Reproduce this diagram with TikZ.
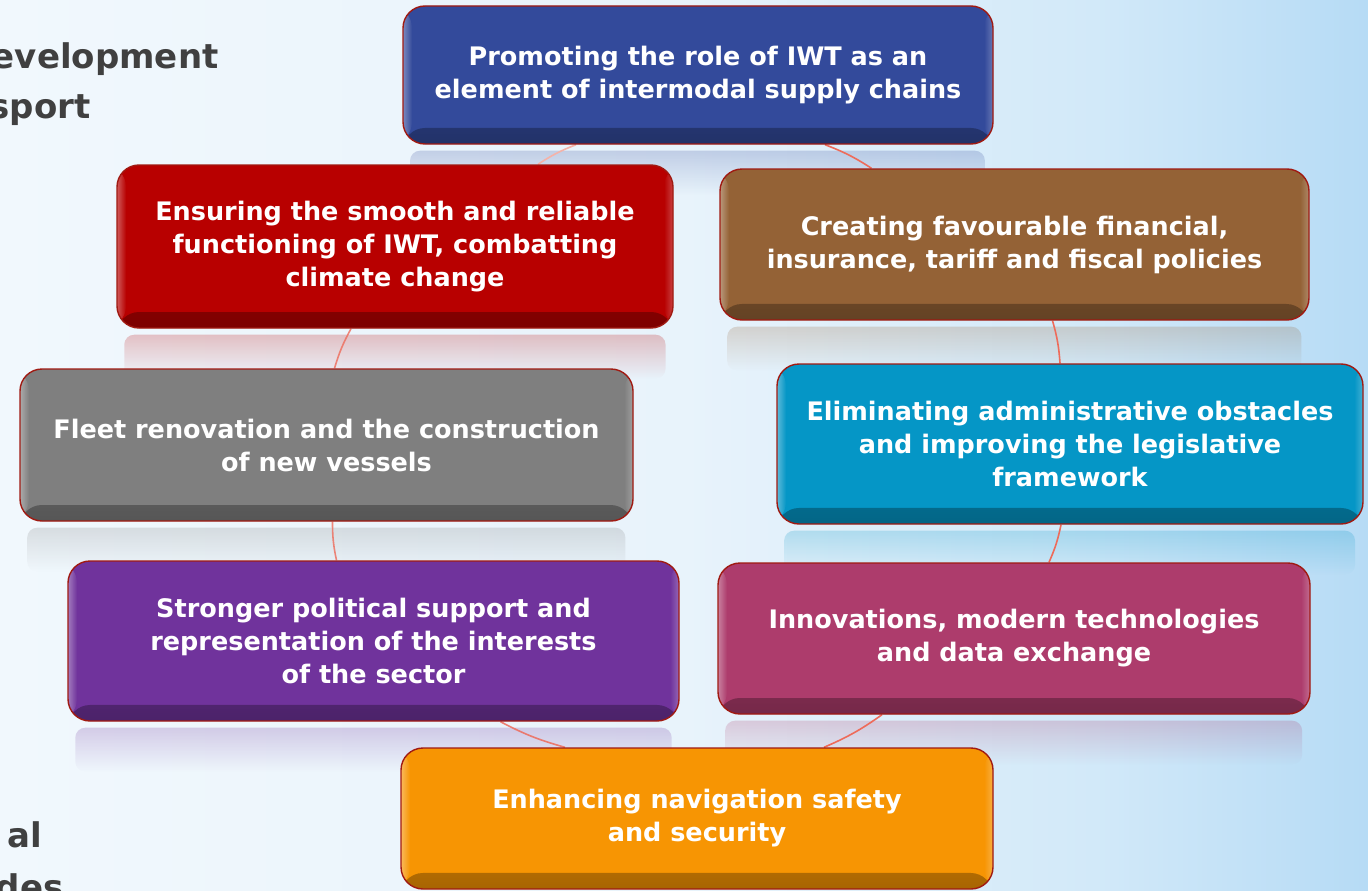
\documentclass[tikz,border=0pt]{standalone}
\usepackage{fontspec}
\setmainfont{DejaVu Sans}
\usetikzlibrary{fadings}
\pgfdeclarelayer{back}
\pgfdeclarelayer{bg}
\pgfsetlayers{back,bg,main}
\definecolor{cBlue}{HTML}{334A9B}
\definecolor{cRed}{HTML}{B80000}
\definecolor{cBrown}{HTML}{946236}
\definecolor{cGray}{HTML}{7F7F7F}
\definecolor{cCyan}{HTML}{0596C6}
\definecolor{cPurple}{HTML}{70339C}
\definecolor{cMagenta}{HTML}{AD3C6C}
\definecolor{cOrange}{HTML}{F79503}
\definecolor{cEdge}{HTML}{A01A12}
\definecolor{cLink}{HTML}{EE6B5A}
\definecolor{cLinkLight}{HTML}{F5B2A8}
\definecolor{cText}{HTML}{404040}
\definecolor{bgA}{HTML}{F1F8FD}
\definecolor{bgB}{HTML}{E8F3FB}
\definecolor{bgC}{HTML}{D2E9F9}
\definecolor{bgD}{HTML}{B6DBF5}
\pgfdeclarehorizontalshading{bgshade}{100bp}{color(0bp)=(bgA); color(25bp)=(bgA); color(50bp)=(bgB); color(65bp)=(bgC); color(75bp)=(bgD); color(100bp)=(bgD)}
\tikzset{
  gbox/.style={draw=cEdge, line width=1.4pt, rounded corners=22pt, inner sep=0pt,
    align=center, text=white, font=\bfseries\fontsize{25.5}{33}\selectfont, fill=#1,
    path picture={
      \fill[black,opacity=.32,path fading=north] (path picture bounding box.south west) rectangle ([yshift=16pt]path picture bounding box.south east);
      \fill[white,opacity=.35,path fading=east] (path picture bounding box.south west) rectangle ([xshift=9pt]path picture bounding box.north west);
      \fill[white,opacity=.25,path fading=west] ([xshift=-9pt]path picture bounding box.south east) rectangle (path picture bounding box.north east);
    }},
  refl/.style={fill=#1, opacity=.22, path fading=south, rounded corners=10pt},
  link/.style={draw=cLink, line width=1.6pt},
  sidetext/.style={anchor=base east, text=cText, font=\bfseries\fontsize{34}{40}\selectfont},
}
\begin{document}
\begin{tikzpicture}[x=1pt,y=-1pt]
\useasboundingbox (0,0) rectangle (1368,891);
\begin{pgfonlayer}{back}
\shade[shading=bgshade] (0,0) rectangle (1368,891);
\end{pgfonlayer}

\node[sidetext] (s1) at (222,68) {evelopment};
\node[sidetext] (s2) at (94,118) {sport};
\node[sidetext] (s3) at (46,847) {al};
\node[sidetext] (s4) at (67,899) {des};

\node[gbox=cBlue, minimum width=590pt, minimum height=138pt] (blue) at (698,75)
  {Promoting the role of IWT as an\\element of intermodal supply chains};
\node[gbox=cRed, minimum width=556pt, minimum height=163pt] (red) at (395,246.5)
  {Ensuring the smooth and reliable\\functioning of IWT, combatting\\climate change};
\node[gbox=cBrown, minimum width=589pt, minimum height=151pt] (brown) at (1014.5,244.5)
  {Creating favourable financial,\\insurance, tariff and fiscal policies};
\node[gbox=cGray, minimum width=613pt, minimum height=152pt] (gray) at (326.5,445)
  {Fleet renovation and the construction\\of new vessels};
\node[gbox=cCyan, minimum width=586pt, minimum height=160pt] (cyan) at (1070,444)
  {Eliminating administrative obstacles\\and improving the legislative\\framework};
\node[gbox=cPurple, minimum width=611pt, minimum height=160pt] (purple) at (373.5,641)
  {Stronger political support and\\representation of the interests\\of the sector};
\node[gbox=cMagenta, minimum width=592pt, minimum height=151pt] (magenta) at (1014,638.5)
  {Innovations, modern technologies\\and data exchange};
\node[gbox=cOrange, minimum width=592pt, minimum height=141pt] (orange) at (697,818.5)
  {Enhancing navigation safety\\and security};

\begin{pgfonlayer}{bg}
  \foreach \n/\c in {blue/cBlue,red/cRed,brown/cBrown,gray/cGray,cyan/cCyan,purple/cPurple,magenta/cMagenta,orange/cOrange}{
    \fill[refl=\c] ([xshift=8pt,yshift=-6pt]\n.south west) rectangle ([xshift=-8pt,yshift=-50pt]\n.south east);
  }
  \draw[link, draw=cLinkLight] ([xshift=-122pt]blue.south) to[bend right=6] ([xshift=143pt]red.north);
  \draw[link] ([xshift=127pt]blue.south) to[bend left=6] ([xshift=-143pt]brown.north);
  \draw[link, opacity=.8] ([xshift=-44pt]red.south) to[bend right=6] ([xshift=8pt]gray.north);
  \draw[link, opacity=.8] ([xshift=6pt]gray.south) to[bend right=6] ([xshift=-37pt]purple.north);
  \draw[link, opacity=.85] ([xshift=127pt]purple.south) to[bend right=6] ([xshift=-132pt]orange.north);
  \draw[link] ([xshift=38pt]brown.south) to[bend left=6] ([xshift=-10pt]cyan.north);
  \draw[link] ([xshift=-9pt]cyan.south) to[bend left=6] ([xshift=35pt]magenta.north);
  \draw[link] ([xshift=-132pt]magenta.south) to[bend left=6] ([xshift=127pt]orange.north);
\end{pgfonlayer}
\end{tikzpicture}
\end{document}
